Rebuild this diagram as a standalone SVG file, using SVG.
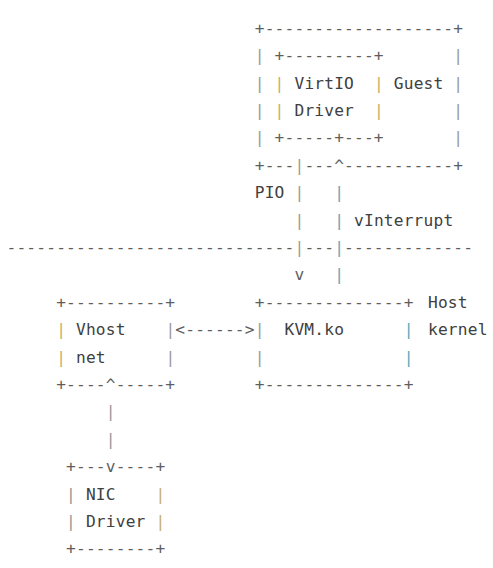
<svg xmlns="http://www.w3.org/2000/svg" width="493" height="568" viewBox="0 0 493 568">
<style>
text{font-family:"DejaVu Sans Mono","Liberation Mono",monospace;font-size:16.2px;letter-spacing:0.18px;fill:#404040}
.p{fill:#5e5e5e}
.g{fill:#999999}
.o{fill:#c4b06a}
.c{fill:#5aaabb}
</style>
<rect width="493" height="568" fill="#ffffff"/>
<g id="guest">
<text class="p" x="254.75" y="33.7">+-------------------+</text>
<text class="g" x="254.75" y="61.1">|</text><text class="g" x="453.35" y="61.1">|</text>
<text class="g" x="254.75" y="88.5">|</text><text x="393.8" y="88.5">Guest</text><text class="g" x="453.35" y="88.5">|</text>
<text class="g" x="254.75" y="115.9">|</text><text class="g" x="453.35" y="115.9">|</text>
<text class="g" x="254.75" y="143.3">|</text><text class="g" x="453.35" y="143.3">|</text>
<text class="p" x="254.75" y="170.7">+---</text><text class="p" x="304.4" y="170.7">---</text><text class="p" x="344.1" y="170.7">-----------+</text>
</g>
<g id="virtio-driver">
<text class="p" x="274.6" y="61.1">+---------+</text>
<text class="o" x="274.6" y="88.5">|</text><text x="294.47" y="88.5">VirtIO</text><text class="o" x="373.9" y="88.5">|</text>
<text class="o" x="274.6" y="115.9">|</text><text x="294.47" y="115.9">Driver</text><text class="o" x="373.9" y="115.9">|</text>
<text class="p" x="274.6" y="143.3">+-----+---+</text>
</g>
<g id="host-kernel-label">
<text x="428" y="307.7">Host</text>
<text x="428" y="335.1">kernel</text>
</g>
<g id="kvm">
<text class="p" x="254.75" y="307.7">+--------------+</text>
<text class="g" x="254.75" y="335.1">|</text><text x="284.5" y="335.1">KVM.ko</text><text class="c" x="403.7" y="335.1">|</text>
<text class="g" x="254.75" y="362.5">|</text><text class="c" x="403.7" y="362.5">|</text>
<text class="p" x="254.75" y="389.9">+--------------+</text>
</g>
<g id="vhost-net">
<text class="p" x="56.15" y="307.7">+----------+</text>
<text class="o" x="56.15" y="335.1">|</text><text x="76" y="335.1">Vhost</text><text class="g" x="165.38" y="335.1">|</text>
<text class="o" x="56.15" y="362.5">|</text><text x="76" y="362.5">net</text><text class="g" x="165.38" y="362.5">|</text>
<text class="p" x="56.15" y="389.9">+----</text><text class="p" x="115.7" y="389.9">-----+</text>
</g>
<g id="nic-driver">
<text class="p" x="66.08" y="472.1">+---</text><text class="p" x="115.7" y="472.1">----+</text>
<text class="g" x="66.08" y="499.5">|</text><text x="85.94" y="499.5">NIC</text><text class="o" x="155.45" y="499.5">|</text>
<text class="g" x="66.08" y="526.9">|</text><text x="85.94" y="526.9">Driver</text><text class="o" x="155.45" y="526.9">|</text>
<text class="p" x="66.08" y="554.3">+--------+</text>
</g>
<g id="connectors">
<text class="g" x="294.47" y="170.7">|</text><text class="p" x="334.2" y="170.7">^</text>
<text x="254.75" y="198.1">PIO</text><text class="g" x="294.47" y="198.1">|</text><text class="c" x="334.2" y="198.1">|</text>
<text class="g" x="294.47" y="225.5">|</text><text class="c" x="334.2" y="225.5">|</text><text x="354.05" y="225.5">vInterrupt</text>
<text class="p" x="6.5" y="252.9">-----------------------------</text><text class="g" x="294.47" y="252.9">|</text><text class="p" x="304.4" y="252.9">---</text><text class="c" x="334.2" y="252.9">|</text><text class="p" x="344.1" y="252.9">-------------</text>
<text class="p" x="294.47" y="280.3">v</text><text class="c" x="334.2" y="280.3">|</text>
<text class="p" x="175.3" y="335.1">&lt;------&gt;</text>
<text class="p" x="105.8" y="389.9">^</text>
<text class="g" x="105.8" y="417.3">|</text>
<text class="g" x="105.8" y="444.7">|</text>
<text class="p" x="105.8" y="472.1">v</text>
</g>
</svg>
